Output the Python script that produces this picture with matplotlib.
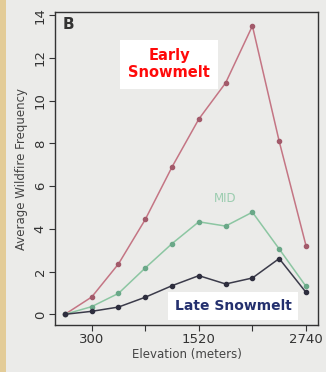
import numpy as np
import matplotlib.pyplot as plt
from matplotlib.patches import Rectangle

# elevation bins (meters)
elevation = [-5, 300, 605, 910, 1215, 1520, 1825, 2130, 2435, 2740]
early = [0.0, 0.81, 2.36, 4.44, 6.9, 9.14, 10.83, 13.5, 8.1, 3.22]
mid = [0.0, 0.36, 0.98, 2.17, 3.31, 4.33, 4.13, 4.78, 3.06, 1.31]
late = [0.0, 0.14, 0.34, 0.8, 1.34, 1.81, 1.42, 1.7, 2.61, 1.03]

xticks = [300, 910, 1520, 2130, 2740]
xticklabels = ['300', '', '1520', '', '2740']
yticks = [0, 2, 4, 6, 8, 10, 12, 14]

fig = plt.figure(figsize=(3.26, 3.72), dpi=100)
fig.patch.set_facecolor('#ebebe9')
# beige strip on the left edge
fig.patches.append(Rectangle((0, 0), 6/326, 1, transform=fig.transFigure,
                             facecolor='#e3cc98', edgecolor='none', zorder=0))

ax = fig.add_axes([55/326, 1-325/372, 263/326, 313/372])
ax.set_facecolor('#ebebe9')

ax.plot(elevation, early, '-o', color='#c47584', mfc='#a25a6a', mec='#a25a6a', ms=3, lw=1.1)
ax.plot(elevation, mid, '-o', color='#8cc6a2', mfc='#6aa888', mec='#6aa888', ms=3, lw=1.1)
ax.plot(elevation, late, '-o', color='#3b3b4a', mfc='#2e2e3e', mec='#2e2e3e', ms=3, lw=1.1)

ax.set_xlim(-118, 2877)
ax.set_ylim(-0.5, 14.15)
ax.set_xticks(xticks)
ax.set_xticklabels(xticklabels, fontsize=9.5, color='#333333')
ax.set_yticks(yticks)
ax.set_yticklabels([str(v) for v in yticks], fontsize=9.5, color='#333333', rotation=90, va='center')
ax.tick_params(colors='#333333', length=4, width=0.8, pad=2)
for s in ax.spines.values():
    s.set_color('#333333')
    s.set_linewidth(1.0)

ax.set_xlabel('Elevation (meters)', fontsize=8.5, color='#444444', labelpad=1)
ax.set_ylabel('Average Wildfire Frequency', fontsize=8.5, color='#444444', labelpad=4)

ax.text(0.03, 0.985, 'B', transform=ax.transAxes, fontsize=11, fontweight='bold',
        color='#333333', va='top', ha='left')
ax.text(1180, 11.7, 'Early\nSnowmelt', fontsize=10.5, fontweight='bold', color='#ff0a0a',
        ha='center', va='center', linespacing=1.15,
        bbox=dict(facecolor='white', edgecolor='none', pad=6))
ax.text(1818, 5.4, 'MID', fontsize=8.5, color='#9ccdb0', ha='center', va='center')
ax.text(1910, 0.4, 'Late Snowmelt', fontsize=10, fontweight='bold', color='#24306e',
        ha='center', va='center',
        bbox=dict(facecolor='white', edgecolor='none', pad=5))

fig.savefig('out.png', dpi=100, facecolor=fig.get_facecolor())
